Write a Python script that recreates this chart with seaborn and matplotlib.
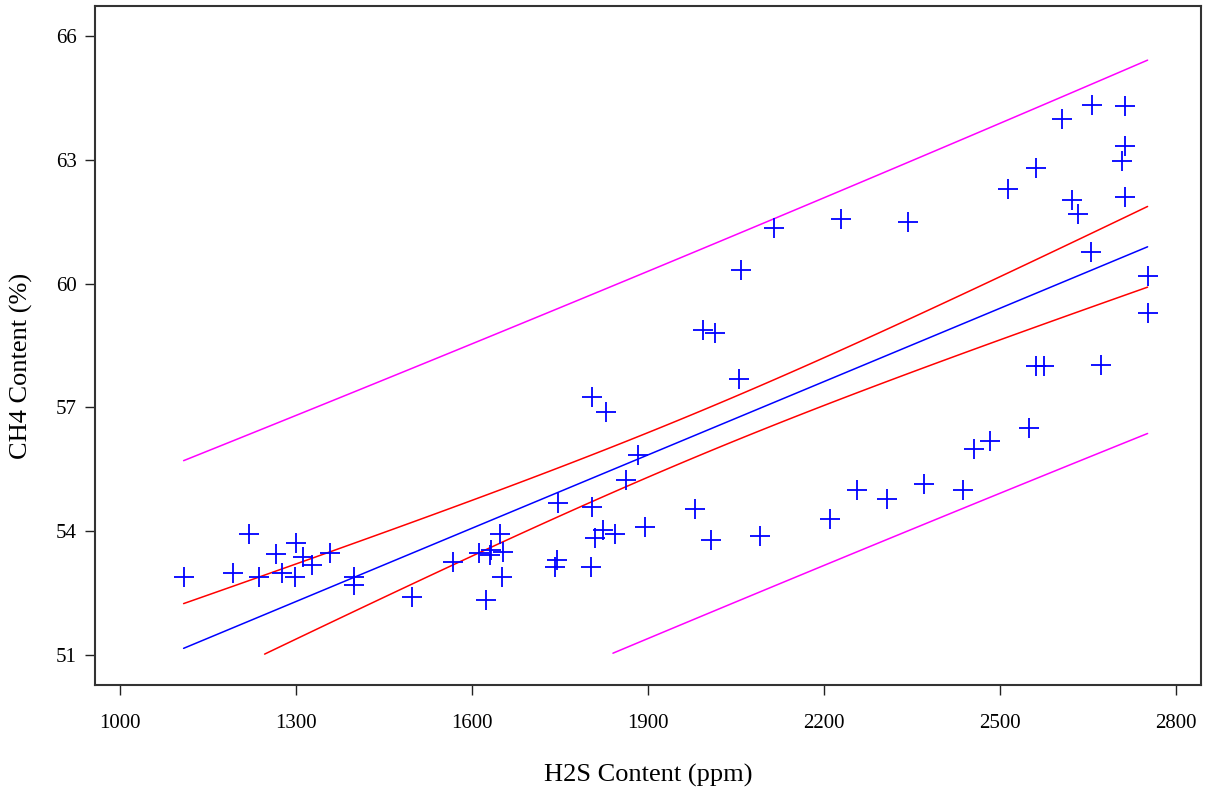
import numpy as np
import pandas as pd
import seaborn as sns
import matplotlib.pyplot as plt

# H2S vs CH4 readings
h2s = [1108, 1192, 1220, 1237, 1266, 1276, 1300, 1298, 1312, 1327, 1357, 1398, 1398,
       1498, 1567, 1612, 1623, 1633, 1631, 1647, 1652, 1651, 1747, 1745, 1741, 1804,
       1810, 1802, 1824, 1844, 1862, 1883, 1895, 1980, 2007, 2091, 2211, 2257, 2307,
       2371, 2437, 2456, 2483, 2549, 1804, 1828, 1993, 2015, 2055, 2059, 2115, 2229,
       2343, 2514, 2561, 2606, 2658, 2714, 2714, 2709, 2714, 2623, 2633, 2655, 2752,
       2752, 2561, 2575, 2673]
ch4 = [52.90, 52.99, 53.93, 52.90, 53.45, 52.99, 53.71, 52.88, 53.38, 53.19, 53.48, 52.90, 52.69,
       52.41, 53.26, 53.48, 52.33, 53.54, 53.42, 53.93, 53.50, 52.88, 54.69, 53.30, 53.12, 54.58,
       53.83, 53.14, 54.03, 53.92, 55.24, 55.85, 54.09, 54.54, 53.79, 53.88, 54.30, 55.00, 54.79,
       55.14, 55.00, 55.99, 56.19, 56.51, 57.25, 56.90, 58.88, 58.81, 57.68, 60.33, 61.34, 61.56,
       61.50, 62.29, 62.81, 63.98, 64.33, 64.30, 63.33, 62.98, 62.09, 62.03, 61.70, 60.77, 60.18,
       59.30, 58.00, 58.00, 58.03]

x_ticks = [1000, 1300, 1600, 1900, 2200, 2500, 2800]
y_ticks = [51, 54, 57, 60, 63, 66]

df = pd.DataFrame({'H2S': h2s, 'CH4': ch4})

# Simple linear fit with 95% confidence and prediction limits
x = df['H2S'].to_numpy(float)
y = df['CH4'].to_numpy(float)
n = len(x)
b1, b0 = np.polyfit(x, y, 1)
resid = y - (b0 + b1 * x)
s = np.sqrt(np.sum(resid ** 2) / (n - 2))
t_val = 1.996  # t(0.975, n-2)
sxx = np.sum((x - x.mean()) ** 2)

grid = np.linspace(x.min(), x.max(), 120)
fit = b0 + b1 * grid
se_mean = s * np.sqrt(1 / n + (grid - x.mean()) ** 2 / sxx)
se_pred = s * np.sqrt(1 + 1 / n + (grid - x.mean()) ** 2 / sxx)

bands = pd.DataFrame({
    'H2S': grid,
    'fit': fit,
    'cl_lo': fit - t_val * se_mean,
    'cl_hi': fit + t_val * se_mean,
    'pl_lo': fit - t_val * se_pred,
    'pl_hi': fit + t_val * se_pred,
})
# the original clips the curves at the bottom tick
for col in ['fit', 'cl_lo', 'cl_hi', 'pl_lo', 'pl_hi']:
    bands.loc[bands[col] < 51, col] = np.nan

sns.set_style('white')
plt.rcParams['font.family'] = ['Liberation Serif', 'DejaVu Serif']
plt.rcParams['text.color'] = 'black'
plt.rcParams['axes.labelcolor'] = 'black'
plt.rcParams['xtick.color'] = 'black'
plt.rcParams['ytick.color'] = 'black'

fig = plt.figure(figsize=(12.11, 7.92), dpi=100)
ax = fig.add_axes([0.0785, 0.1351, 0.9132, 0.8573])

for col, colour in [('pl_hi', '#ff00ff'), ('pl_lo', '#ff00ff'),
                    ('cl_hi', '#ff0000'), ('cl_lo', '#ff0000'), ('fit', '#0000ff')]:
    sns.lineplot(data=bands, x='H2S', y=col, color=colour, linewidth=1.1, ax=ax)

sns.scatterplot(data=df, x='H2S', y='CH4', marker='+', s=190, color='#0000ff',
                linewidth=1.3, ax=ax, zorder=3)

ax.set_xlim(957, 2843)
ax.set_ylim(50.27, 66.73)
ax.set_xticks(x_ticks)
ax.set_yticks(y_ticks)
ax.tick_params(axis='both', direction='out', length=7, width=1, color='#222222',
               labelsize=15, pad=6, left=True, bottom=True)
ax.tick_params(axis='x', pad=14)
for sp in ax.spines.values():
    sp.set_color('#333333')
    sp.set_linewidth(1.5)

ax.set_xlabel('H2S Content (ppm)', fontsize=19, labelpad=22)
ax.set_ylabel('CH4 Content (%)', fontsize=19)
ax.yaxis.set_label_coords(-0.056, 0.47)

fig.savefig('out.png', dpi=100)
